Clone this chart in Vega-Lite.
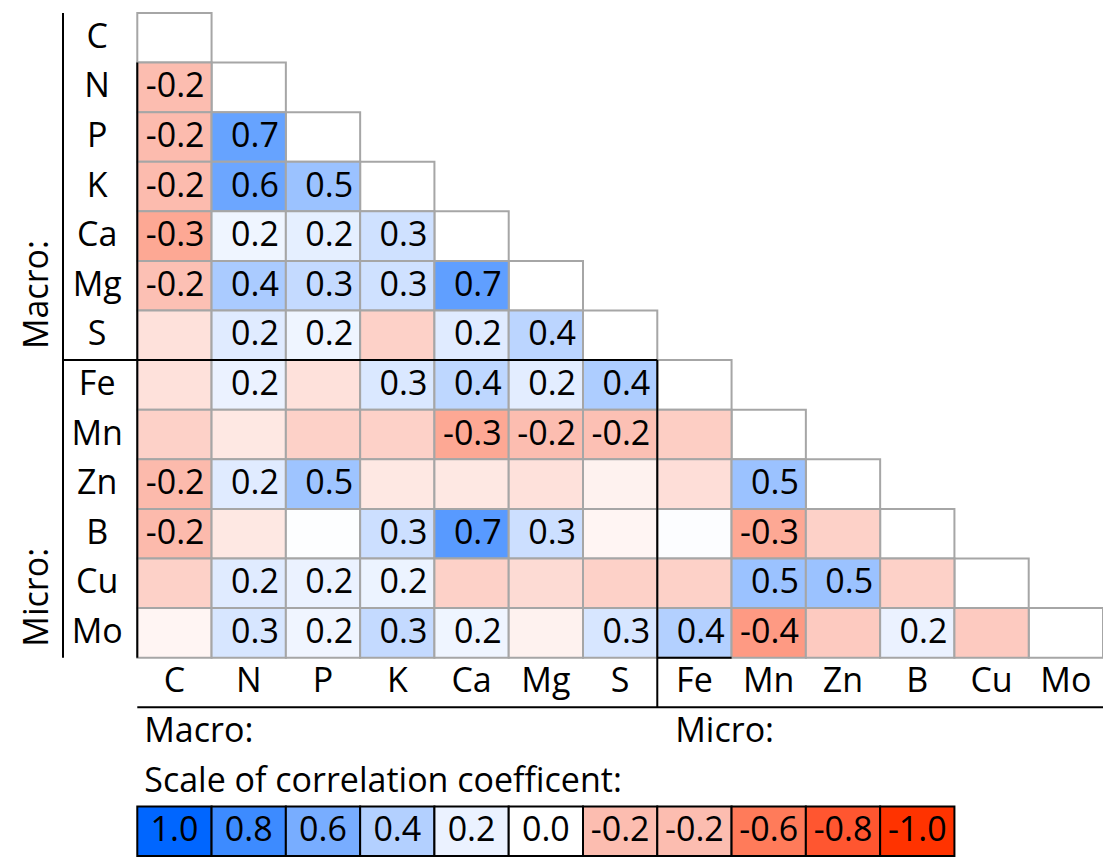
{
  "$schema": "https://vega.github.io/schema/vega-lite/v6.json",
  "autosize": {"type": "none"},
  "padding": {"left": 63, "top": 13, "right": 0, "bottom": 6},
  "width": 1040,
  "height": 843,
  "config": {
    "view": {"stroke": null},
    "text": {"font": "Open Sans", "fontSize": 34, "color": "#000000"}
  },
  "datasets": {
    "cells": [
      {"row": "N", "col": "C", "r": -0.2, "label": "-0.2"},
      {"row": "P", "col": "C", "r": -0.21, "label": "-0.2"},
      {"row": "P", "col": "N", "r": 0.66, "label": "0.7"},
      {"row": "K", "col": "C", "r": -0.21, "label": "-0.2"},
      {"row": "K", "col": "N", "r": 0.64, "label": "0.6"},
      {"row": "K", "col": "P", "r": 0.48, "label": "0.5"},
      {"row": "Ca", "col": "C", "r": -0.33, "label": "-0.3"},
      {"row": "Ca", "col": "N", "r": 0.16, "label": "0.2"},
      {"row": "Ca", "col": "P", "r": 0.22, "label": "0.2"},
      {"row": "Ca", "col": "K", "r": 0.3, "label": "0.3"},
      {"row": "Mg", "col": "C", "r": -0.19, "label": "-0.2"},
      {"row": "Mg", "col": "N", "r": 0.43, "label": "0.4"},
      {"row": "Mg", "col": "P", "r": 0.34, "label": "0.3"},
      {"row": "Mg", "col": "K", "r": 0.3, "label": "0.3"},
      {"row": "Mg", "col": "Ca", "r": 0.68, "label": "0.7"},
      {"row": "S", "col": "C", "r": -0.09, "label": ""},
      {"row": "S", "col": "N", "r": 0.24, "label": "0.2"},
      {"row": "S", "col": "P", "r": 0.16, "label": "0.2"},
      {"row": "S", "col": "K", "r": -0.14, "label": ""},
      {"row": "S", "col": "Ca", "r": 0.24, "label": "0.2"},
      {"row": "S", "col": "Mg", "r": 0.37, "label": "0.4"},
      {"row": "Fe", "col": "C", "r": -0.09, "label": ""},
      {"row": "Fe", "col": "N", "r": 0.2, "label": "0.2"},
      {"row": "Fe", "col": "P", "r": -0.09, "label": ""},
      {"row": "Fe", "col": "K", "r": 0.26, "label": "0.3"},
      {"row": "Fe", "col": "Ca", "r": 0.36, "label": "0.4"},
      {"row": "Fe", "col": "Mg", "r": 0.23, "label": "0.2"},
      {"row": "Fe", "col": "S", "r": 0.42, "label": "0.4"},
      {"row": "Mn", "col": "C", "r": -0.14, "label": ""},
      {"row": "Mn", "col": "N", "r": -0.07, "label": ""},
      {"row": "Mn", "col": "P", "r": -0.14, "label": ""},
      {"row": "Mn", "col": "K", "r": -0.14, "label": ""},
      {"row": "Mn", "col": "Ca", "r": -0.33, "label": "-0.3"},
      {"row": "Mn", "col": "Mg", "r": -0.2, "label": "-0.2"},
      {"row": "Mn", "col": "S", "r": -0.19, "label": "-0.2"},
      {"row": "Mn", "col": "Fe", "r": -0.15, "label": ""},
      {"row": "Zn", "col": "C", "r": -0.22, "label": "-0.2"},
      {"row": "Zn", "col": "N", "r": 0.24, "label": "0.2"},
      {"row": "Zn", "col": "P", "r": 0.47, "label": "0.5"},
      {"row": "Zn", "col": "K", "r": -0.07, "label": ""},
      {"row": "Zn", "col": "Ca", "r": -0.07, "label": ""},
      {"row": "Zn", "col": "Mg", "r": -0.09, "label": ""},
      {"row": "Zn", "col": "S", "r": -0.04, "label": ""},
      {"row": "Zn", "col": "Fe", "r": -0.1, "label": ""},
      {"row": "Zn", "col": "Mn", "r": 0.48, "label": "0.5"},
      {"row": "B", "col": "C", "r": -0.22, "label": "-0.2"},
      {"row": "B", "col": "N", "r": -0.07, "label": ""},
      {"row": "B", "col": "P", "r": 0.02, "label": ""},
      {"row": "B", "col": "K", "r": 0.31, "label": "0.3"},
      {"row": "B", "col": "Ca", "r": 0.71, "label": "0.7"},
      {"row": "B", "col": "Mg", "r": 0.31, "label": "0.3"},
      {"row": "B", "col": "S", "r": -0.03, "label": ""},
      {"row": "B", "col": "Fe", "r": 0.03, "label": ""},
      {"row": "B", "col": "Mn", "r": -0.33, "label": "-0.3"},
      {"row": "B", "col": "Zn", "r": -0.14, "label": ""},
      {"row": "Cu", "col": "C", "r": -0.14, "label": ""},
      {"row": "Cu", "col": "N", "r": 0.24, "label": "0.2"},
      {"row": "Cu", "col": "P", "r": 0.2, "label": "0.2"},
      {"row": "Cu", "col": "K", "r": 0.19, "label": "0.2"},
      {"row": "Cu", "col": "Ca", "r": -0.14, "label": ""},
      {"row": "Cu", "col": "Mg", "r": -0.11, "label": ""},
      {"row": "Cu", "col": "S", "r": -0.14, "label": ""},
      {"row": "Cu", "col": "Fe", "r": -0.14, "label": ""},
      {"row": "Cu", "col": "Mn", "r": 0.48, "label": "0.5"},
      {"row": "Cu", "col": "Zn", "r": 0.48, "label": "0.5"},
      {"row": "Cu", "col": "B", "r": -0.14, "label": ""},
      {"row": "Mo", "col": "C", "r": -0.03, "label": ""},
      {"row": "Mo", "col": "N", "r": 0.27, "label": "0.3"},
      {"row": "Mo", "col": "P", "r": 0.15, "label": "0.2"},
      {"row": "Mo", "col": "K", "r": 0.34, "label": "0.3"},
      {"row": "Mo", "col": "Ca", "r": 0.16, "label": "0.2"},
      {"row": "Mo", "col": "Mg", "r": -0.04, "label": ""},
      {"row": "Mo", "col": "S", "r": 0.27, "label": "0.3"},
      {"row": "Mo", "col": "Fe", "r": 0.4, "label": "0.4"},
      {"row": "Mo", "col": "Mn", "r": -0.41, "label": "-0.4"},
      {"row": "Mo", "col": "Zn", "r": -0.16, "label": ""},
      {"row": "Mo", "col": "B", "r": 0.2, "label": "0.2"},
      {"row": "Mo", "col": "Cu", "r": -0.16, "label": ""}
    ],
    "diag": [
      {"row": "C", "col": "C"}, {"row": "N", "col": "N"}, {"row": "P", "col": "P"},
      {"row": "K", "col": "K"}, {"row": "Ca", "col": "Ca"}, {"row": "Mg", "col": "Mg"},
      {"row": "S", "col": "S"}, {"row": "Fe", "col": "Fe"}, {"row": "Mn", "col": "Mn"},
      {"row": "Zn", "col": "Zn"}, {"row": "B", "col": "B"}, {"row": "Cu", "col": "Cu"},
      {"row": "Mo", "col": "Mo"}
    ],
    "rowlab": [
      {"row": "C", "col": "_lab", "text": "C"}, {"row": "N", "col": "_lab", "text": "N"},
      {"row": "P", "col": "_lab", "text": "P"}, {"row": "K", "col": "_lab", "text": "K"},
      {"row": "Ca", "col": "_lab", "text": "Ca"}, {"row": "Mg", "col": "_lab", "text": "Mg"},
      {"row": "S", "col": "_lab", "text": "S"}, {"row": "Fe", "col": "_lab", "text": "Fe"},
      {"row": "Mn", "col": "_lab", "text": "Mn"}, {"row": "Zn", "col": "_lab", "text": "Zn"},
      {"row": "B", "col": "_lab", "text": "B"}, {"row": "Cu", "col": "_lab", "text": "Cu"},
      {"row": "Mo", "col": "_lab", "text": "Mo"}
    ],
    "collab": [
      {"row": "_xlab", "col": "C", "text": "C"}, {"row": "_xlab", "col": "N", "text": "N"},
      {"row": "_xlab", "col": "P", "text": "P"}, {"row": "_xlab", "col": "K", "text": "K"},
      {"row": "_xlab", "col": "Ca", "text": "Ca"}, {"row": "_xlab", "col": "Mg", "text": "Mg"},
      {"row": "_xlab", "col": "S", "text": "S"}, {"row": "_xlab", "col": "Fe", "text": "Fe"},
      {"row": "_xlab", "col": "Mn", "text": "Mn"}, {"row": "_xlab", "col": "Zn", "text": "Zn"},
      {"row": "_xlab", "col": "B", "text": "B"}, {"row": "_xlab", "col": "Cu", "text": "Cu"},
      {"row": "_xlab", "col": "Mo", "text": "Mo"}
    ],
    "notes": [
      {"row": "_grp", "col": "C", "text": "Macro:", "group": "a"},
      {"row": "_grp", "col": "Fe", "text": "Micro:", "group": "b"},
      {"row": "_scale", "col": "C", "text": "Scale of correlation coefficent:", "group": "a"}
    ],
    "side": [
      {"row": "S", "col": "_lab", "text": "Macro:"},
      {"row": "Mo", "col": "_lab", "text": "Micro:"}
    ],
    "legend": [
      {"row": "_legend", "col": "C", "r": 1.0, "label": "1.0"},
      {"row": "_legend", "col": "N", "r": 0.8, "label": "0.8"},
      {"row": "_legend", "col": "P", "r": 0.6, "label": "0.6"},
      {"row": "_legend", "col": "K", "r": 0.4, "label": "0.4"},
      {"row": "_legend", "col": "Ca", "r": 0.2, "label": "0.2"},
      {"row": "_legend", "col": "Mg", "r": 0.0, "label": "0.0"},
      {"row": "_legend", "col": "S", "r": -0.2, "label": "-0.2"},
      {"row": "_legend", "col": "Fe", "r": -0.2, "label": "-0.2"},
      {"row": "_legend", "col": "Mn", "r": -0.6, "label": "-0.6"},
      {"row": "_legend", "col": "Zn", "r": -0.8, "label": "-0.8"},
      {"row": "_legend", "col": "B", "r": -1.0, "label": "-1.0"}
    ],
    "vlines": [
      {"col": "_lab", "y1": "C", "y2": "Mo"},
      {"col": "C", "y1": "N", "y2": "Mo"},
      {"col": "Fe", "y1": "Fe", "y2": "_xlab"}
    ],
    "hlines": [
      {"row": "Fe", "x1": "_lab", "x2": "S"},
      {"row": "_xlab", "x1": "Fe", "x2": "Fe"},
      {"row": "_grp", "x1": "C", "x2": "Mo"}
    ]
  },
  "layer": [
    {
      "data": {"name": "diag"},
      "mark": {"type": "rect", "fill": "#ffffff", "stroke": "#a6a6a6", "strokeWidth": 2},
      "encoding": {
        "x": {"field": "col", "type": "nominal", "axis": null,
              "scale": {"type": "band", "paddingInner": 0, "paddingOuter": 0,
                        "domain": ["_lab", "C", "N", "P", "K", "Ca", "Mg", "S", "Fe", "Mn", "Zn", "B", "Cu", "Mo"]}},
        "y": {"field": "row", "type": "nominal", "axis": null,
              "scale": {"type": "band", "paddingInner": 0, "paddingOuter": 0,
                        "domain": ["C", "N", "P", "K", "Ca", "Mg", "S", "Fe", "Mn", "Zn", "B", "Cu", "Mo", "_xlab", "_grp", "_scale", "_legend"]}}
      }
    },
    {
      "data": {"name": "cells"},
      "mark": {"type": "rect", "stroke": "#a6a6a6", "strokeWidth": 2},
      "encoding": {
        "x": {"field": "col", "type": "nominal", "axis": null},
        "y": {"field": "row", "type": "nominal", "axis": null},
        "fill": {"field": "r", "type": "quantitative", "legend": null,
                 "scale": {"type": "linear", "interpolate": "rgb",
                           "domain": [-1, -0.8, -0.6, -0.2, 0, 0.2, 0.4, 0.6, 0.8, 1],
                           "range": ["#ff3300", "#ff5630", "#ff7b5a", "#fcbdb0", "#ffffff", "#ebf2ff", "#b3d0ff", "#78adff", "#3d8bff", "#0066ff"]}}
      }
    },
    {
      "data": {"name": "legend"},
      "mark": {"type": "rect", "stroke": "#000000", "strokeWidth": 2},
      "encoding": {
        "x": {"field": "col", "type": "nominal", "axis": null},
        "y": {"field": "row", "type": "nominal", "axis": null},
        "fill": {"field": "r", "type": "quantitative", "legend": null}
      }
    },
    {
      "data": {"name": "cells"},
      "mark": {"type": "text", "align": "right", "baseline": "middle", "dx": -7},
      "encoding": {
        "x": {"field": "col", "type": "nominal", "axis": null, "bandPosition": 1},
        "y": {"field": "row", "type": "nominal", "axis": null},
        "text": {"field": "label"}
      }
    },
    {
      "data": {"name": "legend"},
      "mark": {"type": "text", "align": "center", "baseline": "middle"},
      "encoding": {
        "x": {"field": "col", "type": "nominal", "axis": null},
        "y": {"field": "row", "type": "nominal", "axis": null},
        "text": {"field": "label"}
      }
    },
    {
      "data": {"name": "rowlab"},
      "mark": {"type": "text", "align": "center", "baseline": "middle", "dx": -3},
      "encoding": {
        "x": {"field": "col", "type": "nominal", "axis": null},
        "y": {"field": "row", "type": "nominal", "axis": null},
        "text": {"field": "text"}
      }
    },
    {
      "data": {"name": "collab"},
      "mark": {"type": "text", "align": "center", "baseline": "middle"},
      "encoding": {
        "x": {"field": "col", "type": "nominal", "axis": null},
        "y": {"field": "row", "type": "nominal", "axis": null},
        "text": {"field": "text"}
      }
    },
    {
      "data": {"name": "notes"},
      "transform": [{"filter": "datum.group === 'a'"}],
      "mark": {"type": "text", "align": "left", "baseline": "middle", "dx": 7},
      "encoding": {
        "x": {"field": "col", "type": "nominal", "axis": null, "bandPosition": 0},
        "y": {"field": "row", "type": "nominal", "axis": null},
        "text": {"field": "text"}
      }
    },
    {
      "data": {"name": "notes"},
      "transform": [{"filter": "datum.group === 'b'"}],
      "mark": {"type": "text", "align": "left", "baseline": "middle", "dx": 18},
      "encoding": {
        "x": {"field": "col", "type": "nominal", "axis": null, "bandPosition": 0},
        "y": {"field": "row", "type": "nominal", "axis": null},
        "text": {"field": "text"}
      }
    },
    {
      "data": {"name": "side"},
      "mark": {"type": "text", "align": "left", "baseline": "middle", "angle": 270, "dx": 11, "dy": -25},
      "encoding": {
        "x": {"field": "col", "type": "nominal", "axis": null, "bandPosition": 0},
        "y": {"field": "row", "type": "nominal", "axis": null, "bandPosition": 1},
        "text": {"field": "text"}
      }
    },
    {
      "data": {"name": "vlines"},
      "mark": {"type": "rule", "color": "#000000", "strokeWidth": 2},
      "encoding": {
        "x": {"field": "col", "type": "nominal", "axis": null, "bandPosition": 0},
        "y": {"field": "y1", "type": "nominal", "axis": null, "bandPosition": 0},
        "y2": {"field": "y2", "bandPosition": 1}
      }
    },
    {
      "data": {"name": "hlines"},
      "mark": {"type": "rule", "color": "#000000", "strokeWidth": 2},
      "encoding": {
        "y": {"field": "row", "type": "nominal", "axis": null, "bandPosition": 0},
        "x": {"field": "x1", "type": "nominal", "axis": null, "bandPosition": 0},
        "x2": {"field": "x2", "bandPosition": 1}
      }
    }
  ]
}
